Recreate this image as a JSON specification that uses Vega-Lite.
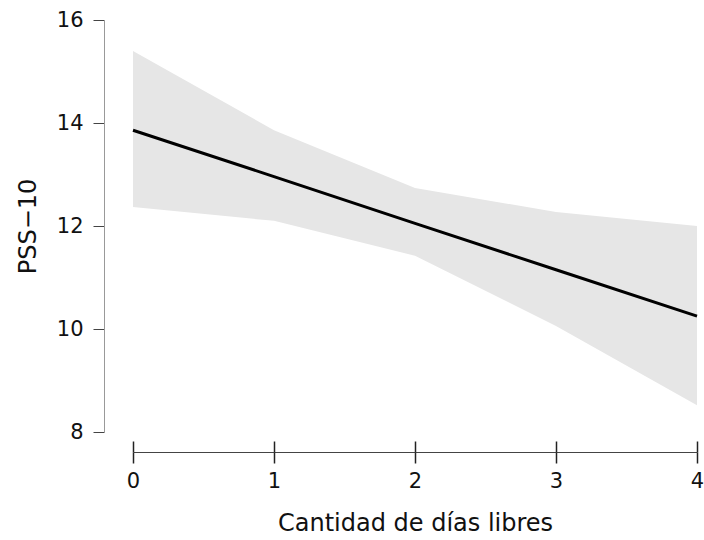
{
  "$schema": "https://vega.github.io/schema/vega-lite/v6.json",
  "width": 564,
  "height": 412,
  "autosize": {"type": "none"},
  "padding": {"left": 133, "top": 20, "right": 7, "bottom": 108},
  "background": "white",
  "config": {"view": {"stroke": null}, "font": "DejaVu Sans"},
  "data": {
    "values": [
      {"dias": 0, "fit": 13.86, "lower": 12.37, "upper": 15.40},
      {"dias": 1, "fit": 12.96, "lower": 12.10, "upper": 13.86},
      {"dias": 2, "fit": 12.05, "lower": 11.42, "upper": 12.74},
      {"dias": 3, "fit": 11.15, "lower": 10.06, "upper": 12.27},
      {"dias": 4, "fit": 10.25, "lower": 8.52, "upper": 12.00}
    ]
  },
  "layer": [
    {
      "mark": {"type": "area", "color": "#e6e6e6", "opacity": 1},
      "encoding": {
        "x": {
          "field": "dias", "type": "quantitative",
          "scale": {"domain": [0, 4], "nice": false, "zero": false},
          "axis": {
            "title": "Cantidad de días libres",
            "values": [0, 1, 2, 3, 4],
            "format": "d",
            "offset": 20,
            "grid": false,
            "labelFlush": false,
            "labelBound": false,
            "domainColor": "#444444",
            "domainWidth": 1,
            "tickColor": "#222222",
            "tickWidth": 1.5,
            "tickSize": 11,
            "labelFontSize": 21,
            "labelColor": "#111111",
            "labelPadding": 7,
            "titleFontSize": 24,
            "titleFontWeight": "normal",
            "titleColor": "#111111",
            "titlePadding": 20
          }
        },
        "y": {
          "field": "lower", "type": "quantitative",
          "scale": {"domain": [8, 16], "nice": false, "zero": false},
          "axis": {
            "title": "PSS−10",
            "values": [8, 10, 12, 14, 16],
            "offset": 29,
            "grid": false,
            "labelFlush": false,
            "labelBound": false,
            "domainColor": "#999999",
            "domainWidth": 1,
            "tickColor": "#444444",
            "tickWidth": 1,
            "tickSize": 11,
            "labelFontSize": 21,
            "labelColor": "#111111",
            "labelPadding": 10,
            "titleFontSize": 24,
            "titleFontWeight": "normal",
            "titleColor": "#111111",
            "titlePadding": 16
          }
        },
        "y2": {"field": "upper"}
      }
    },
    {
      "mark": {"type": "line", "color": "#000000", "strokeWidth": 3},
      "encoding": {
        "x": {
          "field": "dias", "type": "quantitative",
          "scale": {"domain": [0, 4], "nice": false, "zero": false},
          "axis": {
            "orient": "bottom",
            "title": null,
            "values": [0, 1, 2, 3, 4],
            "offset": 20,
            "labels": false,
            "domain": false,
            "grid": false,
            "tickColor": "#222222",
            "tickWidth": 1.5,
            "tickSize": -11
          }
        },
        "y": {"field": "fit", "type": "quantitative", "scale": {"domain": [8, 16], "nice": false, "zero": false}}
      }
    }
  ],
  "resolve": {"axis": {"x": "independent"}}
}
